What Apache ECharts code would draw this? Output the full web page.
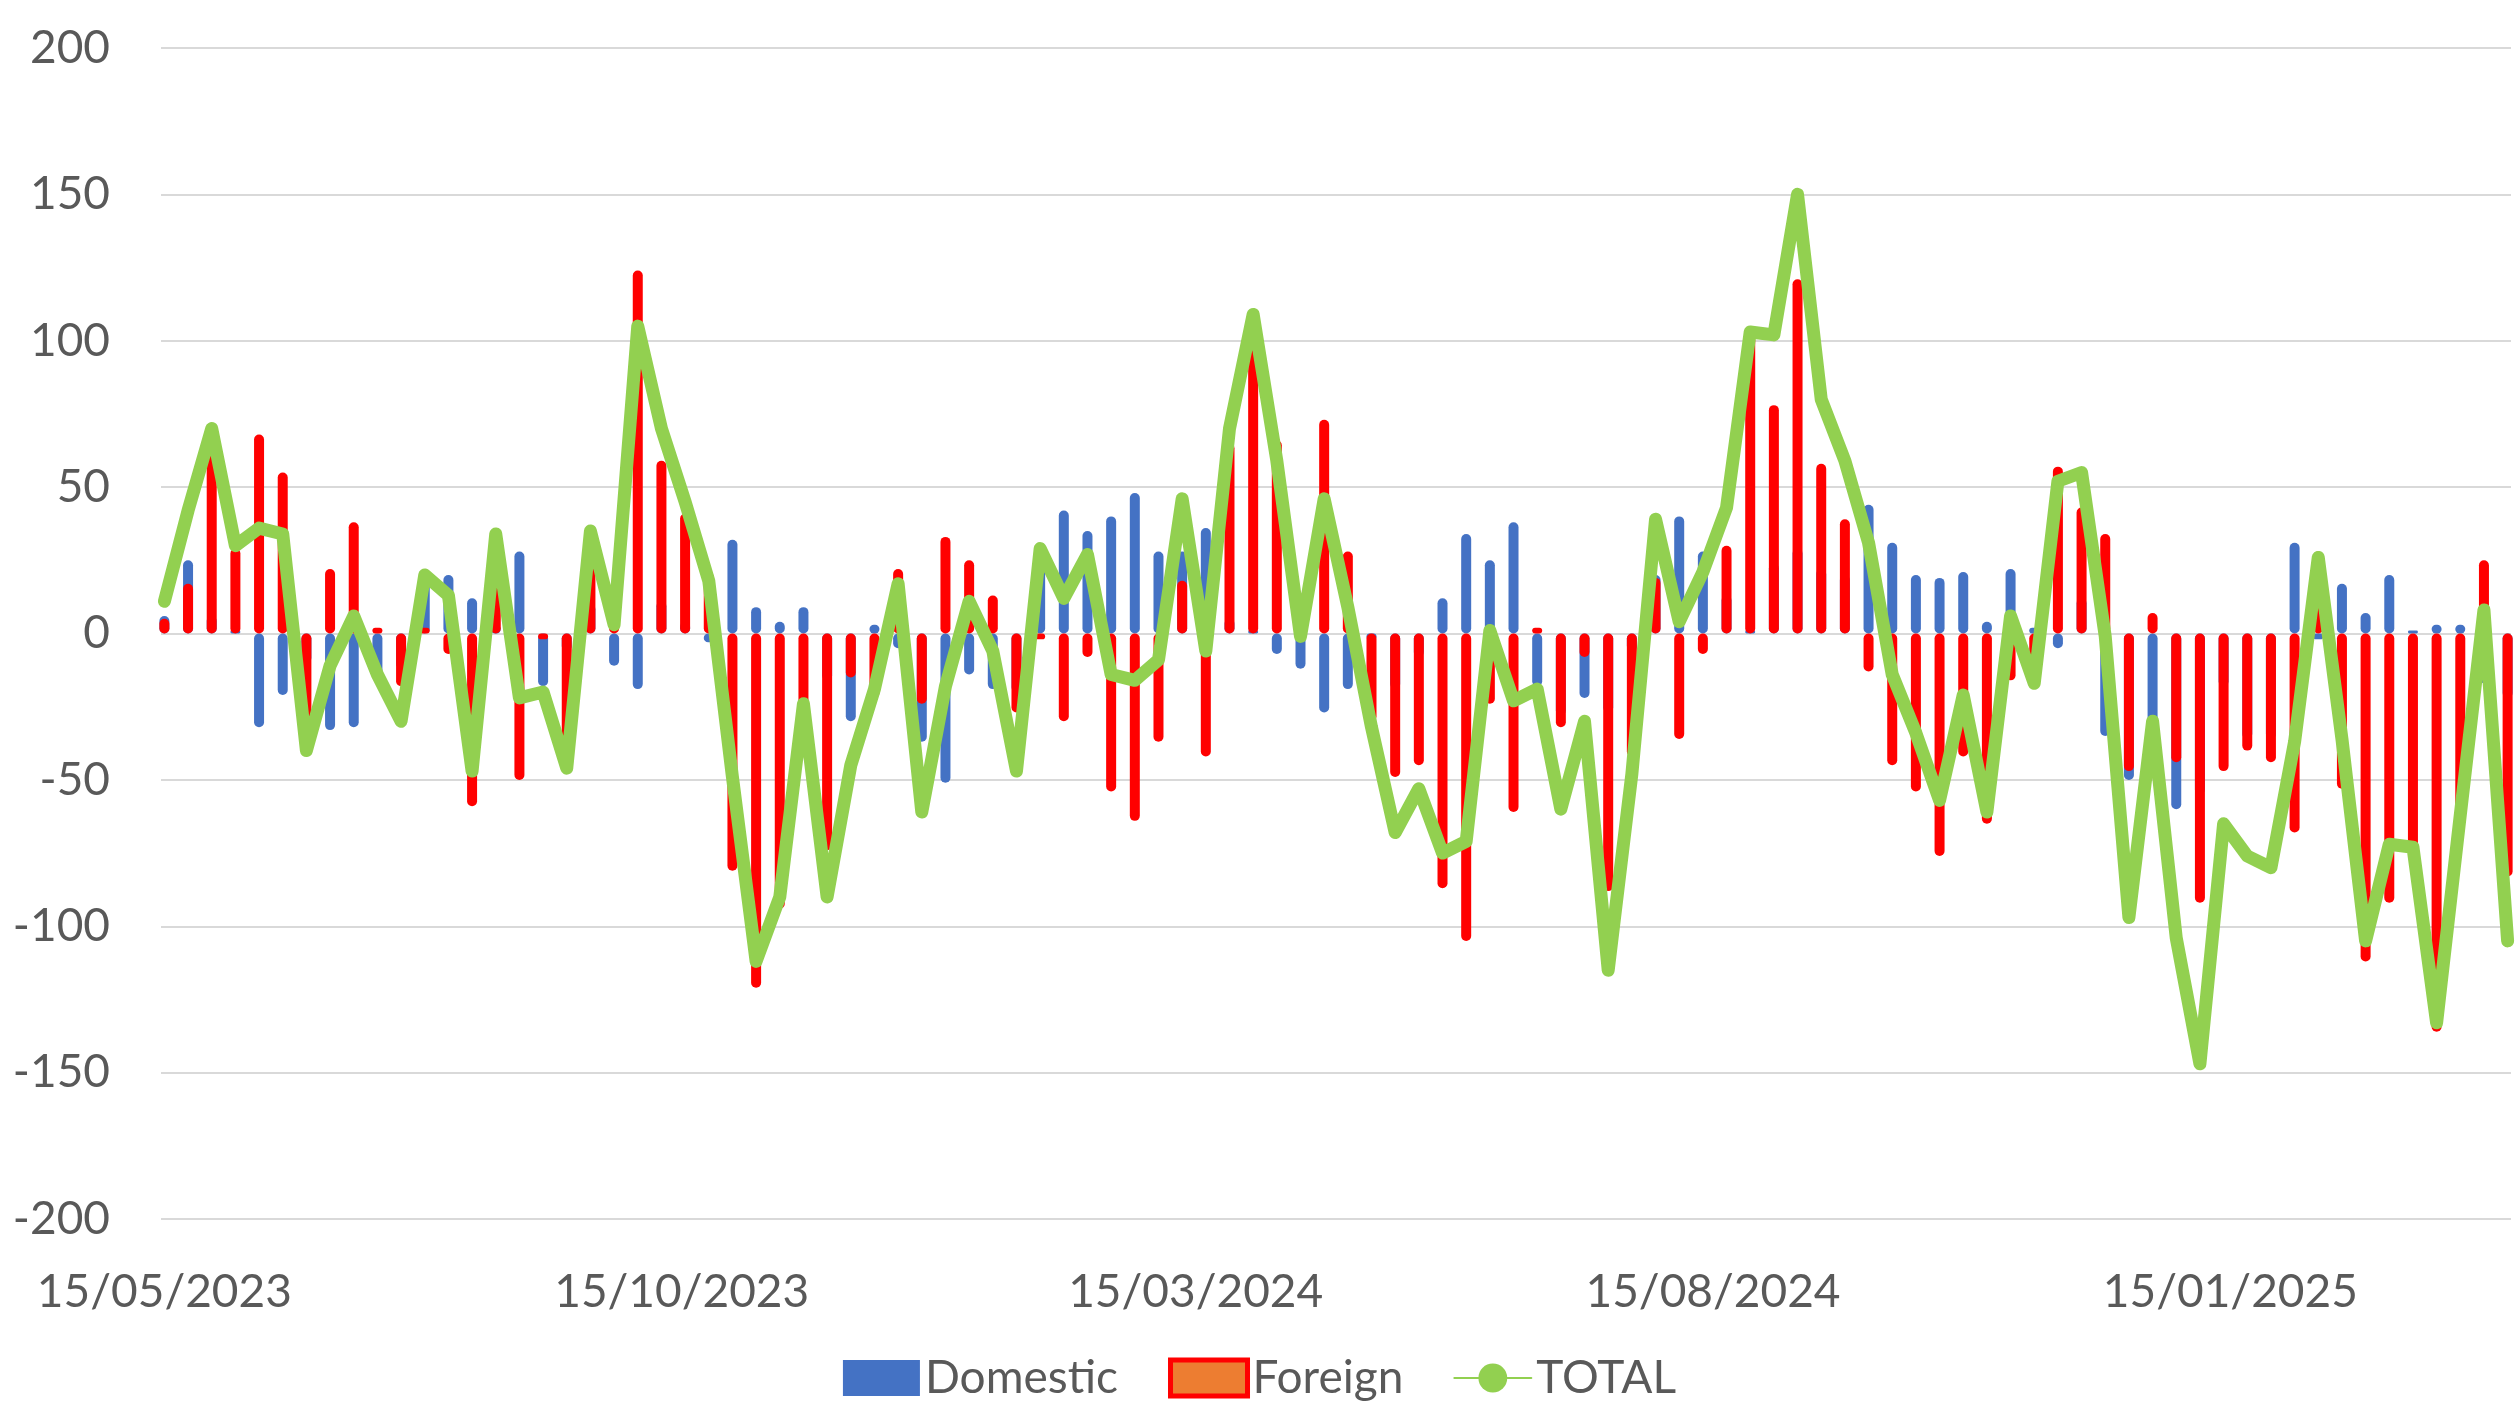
<!DOCTYPE html>
<html><head><meta charset="utf-8">
<script src="https://cdn.jsdelivr.net/npm/echarts@6/dist/echarts.min.js"></script>
<style>html,body{margin:0;padding:0;background:#fff}#c{width:2519px;height:1424px}</style>
</head><body><div id="c"></div>
<script>
const startDate = '2023-05-15';
const weekCount = 100;
const tickLabels = ['2023-05-15','2023-10-15','2024-03-15','2024-08-15','2025-01-15'];
const domestic = [6,25,6,1,-32,-21,-10,-33,-32,-16,-12,18,20,12,3,28,-18,-6,10,-11,-19,11,4,-3,32,9,4,9,-16,-30,3,-5,-37,-51,-14,-19,-20,31,42,35,40,48,28,28,36,5,1,-7,-12,-27,-19,-2,-19,-8,12,34,25,38,-18,-28,-22,-27,-6,20,40,28,13,1,24,29,22,20,44,31,20,19,21,4,22,2,-5,12,-35,-50,-37,-60,-55,-18,-36,-36,31,-2,17,7,20,1,3,3,-17,-22];
const foreign = [5,17,64,29,68,55,-30,22,38,2,-18,2,-7,-59,31,-50,-2,-40,25,14,124,59,41,21,-81,-121,-94,-33,-74,-15,-22,22,-24,33,25,13,-27,-2,-30,-8,-54,-64,-37,18,-42,65,108,66,11,73,28,-30,-49,-45,-87,-105,-24,-61,2,-32,-8,-88,-42,19,-36,-7,30,102,78,121,58,39,-13,-45,-54,-76,-42,-65,-16,-19,57,43,34,-47,7,-44,-92,-47,-40,-44,-68,28,-53,-112,-92,-74,-136,-65,25,-83];
const total = [11,42,70,30,36,34,-40,-11,6,-14,-30,20,13,-47,34,-22,-20,-46,35,3,105,70,45,18,-49,-112,-90,-24,-90,-45,-19,17,-61,-18,11,-6,-47,29,12,27,-14,-16,-9,46,-6,70,109,59,-1,46,9,-32,-68,-53,-75,-71,1,-23,-19,-60,-30,-115,-48,39,4,21,43,103,102,150,80,59,31,-14,-34,-57,-21,-61,6,-17,52,55,-1,-97,-30,-104,-147,-65,-76,-80,-37,26,-36,-105,-72,-73,-133,-62,8,-105];

const DAY = 86400000;
const t0 = Date.parse(startDate + 'T00:00:00Z');
const dates = [];
for (let i = 0; i < weekCount; i++) dates.push(t0 + i * 7 * DAY);
const pair = arr => arr.map((v, i) => [dates[i], v]);
const tickVals = tickLabels.map(s => Date.parse(s + 'T00:00:00Z'));
const fmt = v => { const d = new Date(+v); const p = n => String(n).padStart(2, '0'); return p(d.getUTCDate()) + '/' + p(d.getUTCMonth() + 1) + '/' + d.getUTCFullYear(); };

const font = 'Lato';
const chart = echarts.init(document.getElementById('c'));
chart.setOption({
  animation: false,
  textStyle: { fontFamily: font },
  grid: { left: 161, right: 8, top: 48, bottom: 205 },
  legend: {
    bottom: 18, left: 'center', itemWidth: 77, itemHeight: 36, itemGap: 50,
    textStyle: { fontSize: 46, color: '#595959', fontFamily: font },
    data: [
      { name: 'Domestic', icon: 'rect', itemStyle: { color: '#4472C4' } },
      { name: 'Foreign', icon: 'rect', itemStyle: { color: '#ED7D31', borderColor: '#FF0000', borderWidth: 5 } },
      { name: 'TOTAL' }
    ]
  },
  xAxis: {
    type: 'value', min: t0 - 1 * DAY, max: dates[weekCount - 1] + 1 * DAY,
    axisLine: { show: false }, axisTick: { show: false }, splitLine: { show: false },
    axisLabel: { customValues: tickVals, formatter: fmt, fontSize: 46, color: '#595959', margin: 50 }
  },
  yAxis: {
    type: 'value', min: -200, max: 200, interval: 50,
    axisLine: { show: false }, axisTick: { show: false },
    splitLine: { lineStyle: { color: '#D9D9D9', width: 2 } },
    axisLabel: { fontSize: 46, color: '#595959', margin: 51 }
  },
  series: [
    { name: 'Domestic', type: 'bar', stack: 'a', barWidth: 10, data: pair(domestic),
      itemStyle: { color: '#4472C4', borderRadius: 5 } },
    { name: 'Foreign', type: 'bar', stack: 'a', barWidth: 10, data: pair(foreign),
      itemStyle: { color: '#FF0000', borderRadius: 5 } },
    { name: 'TOTAL', type: 'line', data: pair(total), symbol: 'none', z: 5,
      lineStyle: { color: '#92D050', width: 13, cap: 'round', join: 'round' }, itemStyle: { color: '#92D050' } }
  ]
});
</script></body></html>
